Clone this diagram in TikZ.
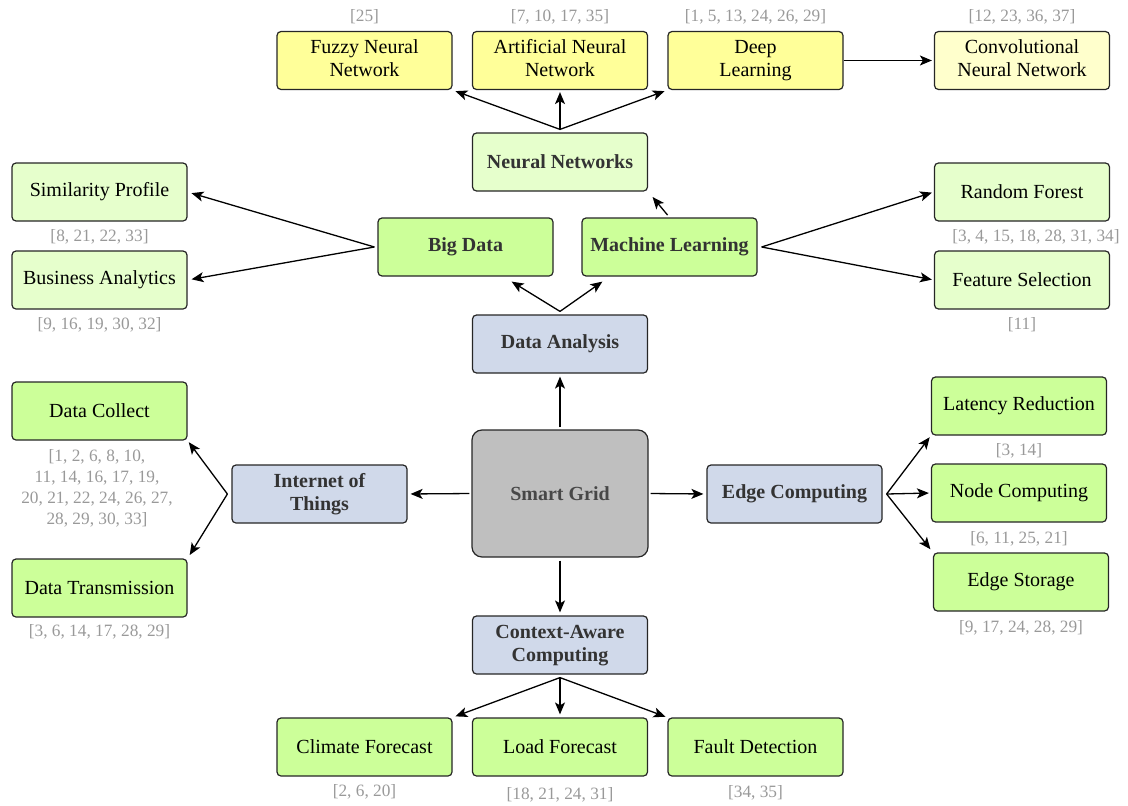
\documentclass[tikz,border=0pt]{standalone}
\usepackage{fontspec}
\setmainfont{Liberation Serif}
\usetikzlibrary{arrows.meta,calc}
\definecolor{cyel}{HTML}{FFFF99}
\definecolor{cyell}{HTML}{FFFFCC}
\definecolor{cgrn}{HTML}{CCFF99}
\definecolor{cgrnl}{HTML}{E6FFCC}
\definecolor{cblue}{HTML}{D0D9EA}
\definecolor{cgray}{HTML}{BFBFBF}
\definecolor{ctxt}{HTML}{333333}
\definecolor{ccite}{HTML}{999999}
\begin{document}
\begin{tikzpicture}[x=1pt,y=-1pt,
  box/.style={draw=black!85, line width=1.2pt, rounded corners=4pt,
    minimum width=175pt, minimum height=58pt, align=center, inner sep=2pt,
    font=\fontsize{20}{23}\selectfont},
  yel/.style={box, fill=cyel},
  yell/.style={box, fill=cyell},
  grn/.style={box, fill=cgrn},
  grnl/.style={box, fill=cgrnl},
  blu/.style={box, fill=cblue},
  bold/.style={font=\fontsize{20}{23}\selectfont\bfseries, text=ctxt},
  cite/.style={text=ccite, align=center, inner sep=0pt,
    font=\fontsize{17.3}{21}\selectfont},
  ar/.style={-{Stealth[length=12pt,width=10pt,inset=3pt]}, line width=1.3pt, black}
]
\useasboundingbox (0,0) rectangle (1128,806);

% top row
\node[yel] (fnn) at (364.5,60.5) {Fuzzy Neural\strut\\Network\strut};
\node[yel] (ann) at (560,60.5) {Artificial Neural\strut\\Network\strut};
\node[yel] (dl) at (755.5,60.5) {Deep\strut\\Learning\strut};
\node[yell] (cnn) at (1022,60.5) {Convolutional\strut\\Neural Network\strut};
\node[cite] (cfnn) at (364.5,17) {[25]};
\node[cite] (cann) at (560,17) {[7, 10, 17, 35]};
\node[cite] (cdl) at (755.5,17) {[1, 5, 13, 24, 26, 29]};
\node[cite] (ccnn) at (1022,17) {[12, 23, 36, 37]};

\node[grnl, bold] (nn) at (560,162) {Neural Networks};

\node[grnl] (sp) at (99.5,192) {Similarity Profile};
\node[grnl] (ba) at (99.5,280) {Business Analytics};
\node[cite] (csp) at (99.5,237) {[8, 21, 22, 33]};
\node[cite] (cba) at (99.5,325) {[9, 16, 19, 30, 32]};

\node[grn, bold] (bd) at (465.5,247) {Big Data};
\node[grn, bold] (ml) at (669.5,247) {Machine Learning};

\node[grnl] (rf) at (1022,192) {Random Forest};
\node[grnl] (fs) at (1022,280) {Feature Selection};
\node[cite] (crf) at (1036,237) {[3, 4, 15, 18, 28, 31, 34]};
\node[cite] (cfs) at (1022,325) {[11]};

\node[blu, bold] (da) at (560,344) {Data Analysis};

\node[grn] (dc) at (99.5,411) {Data Collect};
\node[cite] (cdc) at (97,488) {[1, 2, 6, 8, 10,\\11, 14, 16, 17, 19,\\20, 21, 22, 24, 26, 27,\\28, 29, 30, 33]};
\node[grn] (dt) at (99.5,588) {Data Transmission};
\node[cite] (cdt) at (99.5,632) {[3, 6, 14, 17, 28, 29]};

\node[blu, bold] (iot) at (319.5,494) {Internet of\strut\\Things\strut};
\node[box, fill=cgray, rounded corners=10pt, minimum width=176pt, minimum height=127pt,
  font=\fontsize{20}{23}\selectfont\bfseries, text=black!72] (sg) at (560,493.5) {Smart Grid};
\node[blu, bold] (ec) at (794.5,494) {Edge Computing};

\node[grn] (lr) at (1019,406) {Latency Reduction};
\node[grn] (nc) at (1019,493) {Node Computing};
\node[grn] (es) at (1021,582) {Edge Storage};
\node[cite] (clr) at (1019,451) {[3, 14]};
\node[cite] (cnc) at (1019,539) {[6, 11, 25, 21]};
\node[cite] (ces) at (1021,628) {[9, 17, 24, 28, 29]};

\node[blu, bold] (ca) at (560,645) {Context-Aware\strut\\Computing\strut};

\node[grn] (cf) at (364.5,747) {Climate Forecast};
\node[grn] (lf) at (560,747) {Load Forecast};
\node[grn] (fd) at (755.5,747) {Fault Detection};
\node[cite] (ccf) at (364.5,792) {[2, 6, 20]};
\node[cite] (clf) at (560,795) {[18, 21, 24, 31]};
\node[cite] (cfd) at (755.5,793) {[34, 35]};

% junctions
\coordinate (nnj) at ($(nn.north)+(0,-3)$);
\coordinate (bdj) at ($(bd.west)+(-3,0)$);
\coordinate (mlj) at ($(ml.east)+(4,0)$);
\coordinate (daj) at ($(da.north)+(0,-3)$);
\coordinate (iotj) at ($(iot.west)+(-4,0)$);
\coordinate (ecj) at ($(ec.east)+(4,0)$);
\coordinate (caj) at ($(ca.south)+(0,3)$);

% connectors
\draw[ar, shorten >=3pt] (nnj) -- (fnn.south east);
\draw[ar, shorten >=2pt] (nnj) -- (ann.south);
\draw[ar, shorten >=3pt] (nnj) -- (dl.south west);
\draw[ar, shorten >=2pt] (dl.east) -- (cnn.west);
\draw[ar, shorten <=3pt, shorten >=7pt] (ml.north) -- (nn.south east);
\draw[ar, shorten >=4pt] (bdj) -- (sp.east);
\draw[ar, shorten >=4pt] (bdj) -- (ba.east);
\draw[ar, shorten >=2pt] (mlj) -- (rf.west);
\draw[ar, shorten >=2pt] (mlj) -- (fs.west);
\draw[ar] (daj) -- ($(bd.south east)+(-42,5)$);
\draw[ar] (daj) -- ($(ml.south west)+(21,5)$);
\draw[ar, shorten <=2pt, shorten >=3pt] (sg.north) -- (da.south);
\draw[ar, shorten <=2pt, shorten >=3pt] (sg.west) -- (iot.east);
\draw[ar, shorten <=2pt, shorten >=3pt] (sg.east) -- (ec.west);
\draw[ar, shorten <=3pt, shorten >=3pt] (sg.south) -- (ca.north);
\draw[ar, shorten >=2pt] (iotj) -- (dc.south east);
\draw[ar, shorten >=4pt] (iotj) -- (dt.north east);
\draw[ar, shorten >=2pt] (ecj) -- (lr.south west);
\draw[ar, shorten >=2pt] (ecj) -- (nc.west);
\draw[ar, shorten >=4pt] (ecj) -- (es.north west);
\draw[ar, shorten >=3pt] (caj) -- (cf.north east);
\draw[ar, shorten >=3pt] (caj) -- (lf.north);
\draw[ar, shorten >=2pt] (caj) -- (fd.north west);
\end{tikzpicture}
\end{document}
